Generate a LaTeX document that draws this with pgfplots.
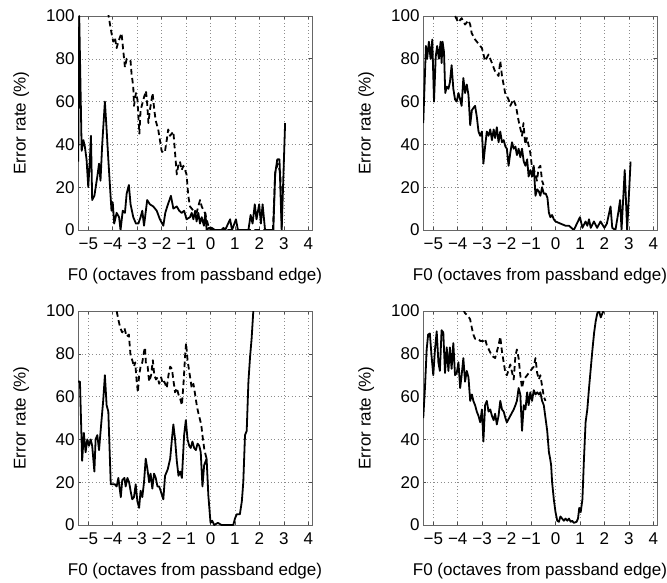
\documentclass[border=0pt]{standalone}
\usepackage{fontspec}
\setmainfont{Liberation Sans}
\usepackage{pgfplots}
\pgfplotsset{compat=1.18}
\pgfplotsset{
 panel/.style={
  scale only axis, width=234pt, height=214pt,
  xmin=-5.42, xmax=4.15, ymin=0, ymax=100,
  xtick={-5,...,4}, xticklabels={−5,−4,−3,−2,−1,0,1,2,3,4},
  ytick={0,20,...,100}, yticklabels={0,20,40,60,80,100},
  grid=major,
  major grid style={black!45, dash pattern=on 0.7pt off 2.8pt, line width=0.5pt},
  tick align=inside, major tick length=3pt,
  axis line style={black!60, line width=0.7pt},
  tick style={black!70, line width=0.6pt},
  font=\fontsize{17}{20}\selectfont,
  tick label style={font=\fontsize{17}{20}\selectfont},
  label style={font=\fontsize{17}{20}\selectfont},
  xticklabel style={yshift=-4pt},
  xlabel={F0 (octaves from passband edge)},
  xlabel style={yshift=-12pt},
  ylabel={Error rate (\%)},
  ylabel style={yshift=10pt},
 },
 sol/.style={black, line width=1.8pt, line join=round, no markers},
 das/.style={black, line width=1.8pt, line join=round, dash pattern=on 5.5pt off 3.5pt, no markers},
}
\begin{document}
\begin{tikzpicture}
\useasboundingbox (0,0) rectangle (667pt,582pt);
% Panel 1 (top left)
\begin{axis}[panel, at={(78pt,352pt)}, anchor=south west]
\addplot[sol] coordinates {(-5.41,32)(-5.37,100)(-5.27,37)(-5.20,42)(-5.14,39)(-5.07,33)(-5.00,20)(-4.93,34)(-4.89,44)(-4.84,14)(-4.75,16)(-4.63,25)(-4.56,31)(-4.50,23)(-4.43,40)(-4.32,60)(-4.25,47)(-4.18,33)(-4.11,20)(-4.05,9)(-4.00,13)(-3.94,3)(-3.84,8)(-3.74,6)(-3.68,0)(-3.59,9)(-3.50,8)(-3.43,17)(-3.34,21)(-3.27,12)(-3.16,6)(-3.05,3)(-2.95,3)(-2.86,6)(-2.79,9)(-2.72,2)(-2.59,14)(-2.48,12)(-2.34,11)(-2.20,9)(-2.07,5)(-1.93,2)(-1.85,8)(-1.77,11)(-1.62,16)(-1.52,10)(-1.38,11)(-1.28,9)(-1.18,8)(-1.08,9)(-0.98,5)(-0.84,6)(-0.77,8)(-0.70,5)(-0.63,9)(-0.57,4)(-0.50,8)(-0.43,3)(-0.36,6)(-0.27,2)(-0.21,8)(-0.16,0)(-0.06,1)(0.05,1)(0.18,0)(0.45,0)(0.53,1)(0.60,0)(0.80,5)(0.88,0)(1.04,5)(1.12,0)(1.55,0)(1.64,7)(1.72,3)(1.81,12)(1.88,5)(1.99,12)(2.06,3)(2.13,12)(2.23,0)(2.57,0)(2.64,26)(2.73,33)(2.82,33)(2.91,0)(3.05,50)};
\addplot[das] coordinates {(-4.25,106)(-4.14,98)(-4.05,92)(-3.98,88)(-3.91,90)(-3.84,85)(-3.77,88)(-3.64,92)(-3.57,84)(-3.50,76)(-3.43,80)(-3.27,79)(-3.23,73)(-3.16,67)(-3.13,58)(-3.05,64)(-2.99,61)(-2.95,53)(-2.91,45)(-2.86,56)(-2.79,59)(-2.72,62)(-2.64,65)(-2.59,59)(-2.54,50)(-2.48,56)(-2.41,61)(-2.37,64)(-2.30,56)(-2.24,51)(-2.14,47)(-2.07,42)(-2.00,37)(-1.93,36)(-1.86,37)(-1.79,42)(-1.73,47)(-1.66,44)(-1.52,46)(-1.45,36)(-1.38,26)(-1.32,30)(-1.25,32)(-1.18,28)(-1.11,30)(-1.04,28)(-0.98,26)(-0.91,16)(-0.84,11)(-0.70,9)(-0.57,8)(-0.43,14)(-0.36,11)(-0.23,8)(-0.09,2)(0.0,0)(2.55,0)(2.65,27)(2.75,31)(2.85,27)(2.92,0)};
\end{axis}
% Panel 2 (top right)
\begin{axis}[panel, at={(423pt,352pt)}, anchor=south west]
\addplot[sol] coordinates {(-5.41,50)(-5.30,86)(-5.25,80)(-5.18,88)(-5.11,80)(-5.04,89)(-4.97,60)(-4.90,81)(-4.84,86)(-4.77,80)(-4.70,88)(-4.66,78)(-4.62,88)(-4.56,83)(-4.51,64)(-4.45,67)(-4.38,66)(-4.32,69)(-4.25,77)(-4.18,66)(-4.11,61)(-4.04,60)(-3.97,64)(-3.90,61)(-3.84,58)(-3.77,71)(-3.70,64)(-3.63,68)(-3.56,63)(-3.49,49)(-3.42,56)(-3.36,57)(-3.29,58)(-3.22,53)(-3.15,46)(-3.08,44)(-3.01,46)(-2.95,31)(-2.88,39)(-2.81,46)(-2.74,44)(-2.67,47)(-2.60,42)(-2.53,47)(-2.47,43)(-2.40,48)(-2.33,41)(-2.26,46)(-2.19,41)(-2.12,42)(-2.05,39)(-1.99,38)(-1.92,30)(-1.85,36)(-1.78,41)(-1.71,38)(-1.64,39)(-1.58,35)(-1.51,38)(-1.44,34)(-1.37,38)(-1.30,32)(-1.23,30)(-1.16,33)(-1.10,25)(-1.03,28)(-0.96,25)(-0.89,30)(-0.82,16)(-0.75,19)(-0.68,18)(-0.62,16)(-0.55,20)(-0.48,17)(-0.40,17)(-0.33,15)(-0.27,8)(-0.21,6)(-0.14,7)(-0.07,5)(0.0,4)(0.2,3)(0.41,2)(0.55,2)(0.75,0)(1.0,6)(1.1,1)(1.23,4)(1.3,2)(1.37,5)(1.44,1)(1.57,4)(1.7,1)(1.84,4)(2.0,1)(2.1,3)(2.25,11)(2.32,1)(2.45,0)(2.58,9)(2.64,14)(2.7,0)(2.83,28)(2.93,0)(3.07,32)};
\addplot[das] coordinates {(-4.2,104)(-4.11,100)(-3.98,97)(-3.84,99)(-3.70,96)(-3.56,98)(-3.49,96)(-3.43,92)(-3.29,89)(-3.15,87)(-3.01,85)(-2.88,79)(-2.74,82)(-2.60,78)(-2.47,74)(-2.33,72)(-2.26,79)(-2.19,72)(-2.06,64)(-1.92,61)(-1.85,58)(-1.72,61)(-1.62,58)(-1.51,51)(-1.37,44)(-1.31,50)(-1.24,40)(-1.17,43)(-1.03,36)(-0.96,29)(-0.90,29)(-0.76,23)(-0.69,29)(-0.62,30)(-0.55,23)(-0.49,21)};
\end{axis}
% Panel 3 (bottom left)
\begin{axis}[panel, at={(78pt,57pt)}, anchor=south west]
\addplot[sol] coordinates {(-5.41,67)(-5.34,67)(-5.25,30)(-5.18,43)(-5.11,34)(-5.04,40)(-4.97,37)(-4.90,40)(-4.84,37)(-4.75,25)(-4.70,40)(-4.63,42)(-4.56,35)(-4.48,46)(-4.39,58)(-4.32,70)(-4.25,56)(-4.18,53)(-4.08,19)(-3.98,19)(-3.91,19)(-3.84,18)(-3.77,22)(-3.67,13)(-3.61,21)(-3.52,22)(-3.47,18)(-3.40,22)(-3.33,20)(-3.27,16)(-3.20,12)(-3.13,13)(-3.06,19)(-2.99,11)(-2.92,8)(-2.86,16)(-2.79,13)(-2.72,20)(-2.65,31)(-2.58,26)(-2.51,20)(-2.45,24)(-2.38,17)(-2.31,24)(-2.24,22)(-2.17,18)(-2.10,18)(-2.04,16)(-1.93,12)(-1.86,23)(-1.75,26)(-1.65,31)(-1.58,40)(-1.52,47)(-1.45,40)(-1.38,30)(-1.31,23)(-1.24,25)(-1.17,22)(-1.08,42)(-1.01,49)(-0.94,40)(-0.87,37)(-0.81,36)(-0.74,39)(-0.67,36)(-0.60,35)(-0.53,38)(-0.46,37)(-0.40,34)(-0.33,18)(-0.26,28)(-0.16,31)(-0.09,14)(0.0,1)(0.07,2)(0.15,0)(0.3,1)(0.45,0)(0.93,0)(1.0,3)(1.07,5)(1.2,5)(1.28,11)(1.34,20)(1.41,42)(1.48,44)(1.55,67)(1.62,79)(1.68,87)(1.75,100)(1.8,105)};
\addplot[das] coordinates {(-3.9,104)(-3.84,100)(-3.77,96)(-3.69,92)(-3.61,90)(-3.52,92)(-3.43,88)(-3.34,89)(-3.27,79)(-3.20,77)(-3.13,74)(-3.08,76)(-3.02,67)(-2.97,62)(-2.92,70)(-2.86,74)(-2.79,76)(-2.72,81)(-2.68,83)(-2.64,75)(-2.57,74)(-2.51,67)(-2.43,70)(-2.36,77)(-2.30,70)(-2.23,68)(-2.16,69)(-2.10,66)(-2.02,69)(-1.95,66)(-1.89,67)(-1.79,64)(-1.72,70)(-1.65,74)(-1.58,73)(-1.51,67)(-1.45,62)(-1.38,64)(-1.31,61)(-1.24,59)(-1.17,56)(-1.10,67)(-1.04,79)(-1.0,85)(-0.94,77)(-0.86,71)(-0.77,64)(-0.70,66)(-0.63,61)(-0.55,55)(-0.47,51)(-0.38,47)(-0.32,41)(-0.25,35)(-0.16,31)};
\end{axis}
% Panel 4 (bottom right)
\begin{axis}[panel, at={(423pt,57pt)}, anchor=south west]
\addplot[sol] coordinates {(-5.41,50)(-5.34,64)(-5.27,82)(-5.21,89)(-5.14,89.5)(-5.07,79)(-5.00,70)(-4.93,82)(-4.86,90.5)(-4.79,76)(-4.73,72)(-4.66,91)(-4.59,90)(-4.52,71)(-4.45,83)(-4.38,72)(-4.32,83)(-4.25,73)(-4.18,85)(-4.11,70)(-4.04,71)(-3.97,76)(-3.90,64)(-3.84,70)(-3.77,78)(-3.70,67)(-3.63,72)(-3.56,69)(-3.49,58)(-3.42,61)(-3.36,58)(-3.29,56)(-3.22,53)(-3.15,51)(-3.08,48)(-3.01,54)(-2.95,39)(-2.88,56)(-2.81,58)(-2.74,53)(-2.67,54)(-2.60,51)(-2.53,49)(-2.47,52)(-2.40,47)(-2.33,51)(-2.26,58)(-2.19,54)(-2.12,53)(-2.05,50)(-1.99,48)(-1.85,51)(-1.71,54)(-1.64,56)(-1.58,58)(-1.51,64)(-1.44,61)(-1.37,44)(-1.30,56)(-1.23,54)(-1.16,62)(-1.10,56)(-1.03,62)(-0.96,58)(-0.89,63)(-0.82,61)(-0.75,62)(-0.68,61)(-0.62,62)(-0.55,58)(-0.48,56)(-0.41,50)(-0.34,44)(-0.27,34)(-0.22,31)(-0.18,28)(-0.14,20)(-0.07,12)(0.0,6)(0.07,2)(0.14,1.5)(0.2,4)(0.27,3)(0.34,2)(0.41,3)(0.48,2)(0.55,3)(0.62,1.5)(0.68,2)(0.75,1)(0.86,1.5)(0.92,3)(0.97,8)(1.03,6)(1.10,12)(1.16,30)(1.23,48)(1.30,54)(1.37,64)(1.44,73)(1.51,82)(1.58,90)(1.64,95)(1.71,99)(1.78,100)(1.85,97)(1.92,99)(2.0,101)};
\addplot[das] coordinates {(-4.05,104)(-3.97,100)(-3.84,102)(-3.70,99)(-3.56,97.5)(-3.49,96)(-3.42,92)(-3.36,89)(-3.29,87)(-3.15,87)(-3.08,86)(-2.95,86)(-2.88,87)(-2.81,84)(-2.60,79)(-2.47,78)(-2.33,84)(-2.26,88)(-2.19,81)(-2.05,71)(-1.99,70)(-1.85,75)(-1.71,68)(-1.64,79)(-1.58,82)(-1.51,78)(-1.44,70)(-1.37,64)(-1.30,68)(-1.16,70)(-1.03,72)(-0.89,74)(-0.82,78)(-0.75,71)(-0.68,68)(-0.62,70)(-0.55,65)(-0.48,60)(-0.41,58)};
\end{axis}
\end{tikzpicture}
\end{document}
